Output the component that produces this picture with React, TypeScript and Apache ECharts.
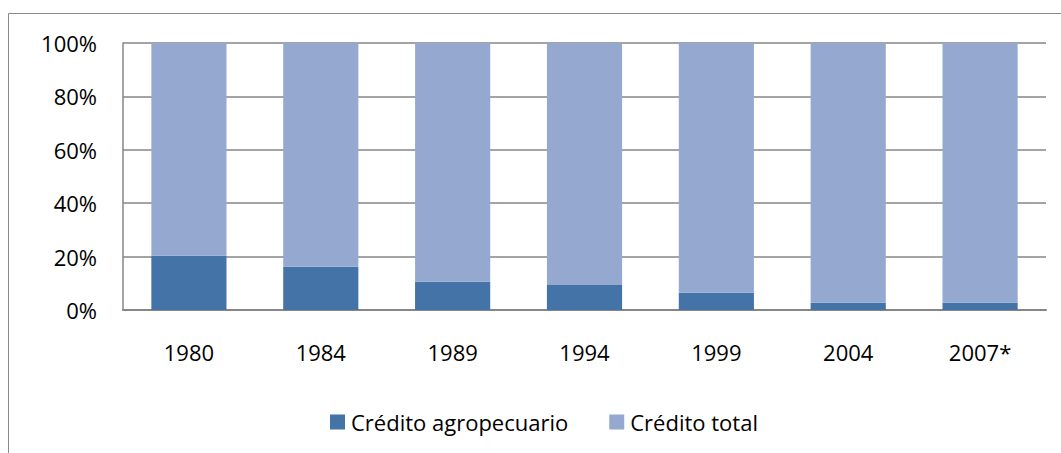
import React, { useEffect, useRef } from "react";
import * as echarts from "echarts";

const years = ["1980", "1984", "1989", "1994", "1999", "2004", "2007*"];
const creditoAgropecuario = [20.3, 16.2, 10.6, 9.4, 6.5, 2.7, 2.7];
const creditoTotal = [79.7, 83.8, 89.4, 90.6, 93.5, 97.3, 97.3];
const seriesNames = ["Crédito agropecuario", "Crédito total"];
const colors = ["#4473A7", "#95A9D0"];

const FONT = "'Open Sans', sans-serif";

export default function App() {
  const ref = useRef<HTMLDivElement>(null);
  useEffect(() => {
    if (!ref.current) return;
    const chart = echarts.init(ref.current, null, { renderer: "svg" });
    chart.setOption({
      animation: false,
      backgroundColor: "#ffffff",
      textStyle: { fontFamily: FONT },
      graphic: [
        {
          type: "rect",
          shape: { x: 8.5, y: 13.5, width: 1100, height: 500 },
          style: { fill: "none", stroke: "#8a8a8a", lineWidth: 1 },
          silent: true,
          z: -1,
        },
      ],
      grid: { left: 123, right: 15, top: 43, bottom: 143, containLabel: false },
      legend: {
        data: seriesNames,
        left: 325,
        top: 406,
        icon: "rect",
        itemWidth: 15,
        itemHeight: 15,
        itemGap: 41,
        textStyle: { fontFamily: FONT, fontSize: 22, color: "#000000", padding: [0, 0, 0, 1] },
      },
      xAxis: {
        type: "category",
        data: years,
        axisLine: { show: true, lineStyle: { color: "#868686", width: 2 } },
        axisTick: { show: false },
        axisLabel: { fontFamily: FONT, fontSize: 22, color: "#000000", margin: 31 },
      },
      yAxis: {
        type: "value",
        min: 0,
        max: 100,
        interval: 20,
        axisLine: { show: true, lineStyle: { color: "#868686", width: 1.5 } },
        axisTick: { show: false },
        splitLine: { show: true, lineStyle: { color: "#868686", width: 1.5 } },
        axisLabel: {
          fontFamily: FONT,
          fontSize: 22,
          color: "#000000",
          margin: 26,
          formatter: "{value}%",
        },
      },
      series: [
        {
          name: seriesNames[0],
          type: "bar",
          stack: "s",
          data: creditoAgropecuario,
          barWidth: "57%",
          itemStyle: { color: colors[0] },
        },
        {
          name: seriesNames[1],
          type: "bar",
          stack: "s",
          data: creditoTotal,
          barWidth: "57%",
          itemStyle: { color: colors[1] },
        },
      ],
    });
    return () => chart.dispose();
  }, []);
  return (
    <div
      ref={ref}
      style={{ position: "absolute", left: 0, top: 0, width: 1061, height: 453 }}
    />
  );
}
